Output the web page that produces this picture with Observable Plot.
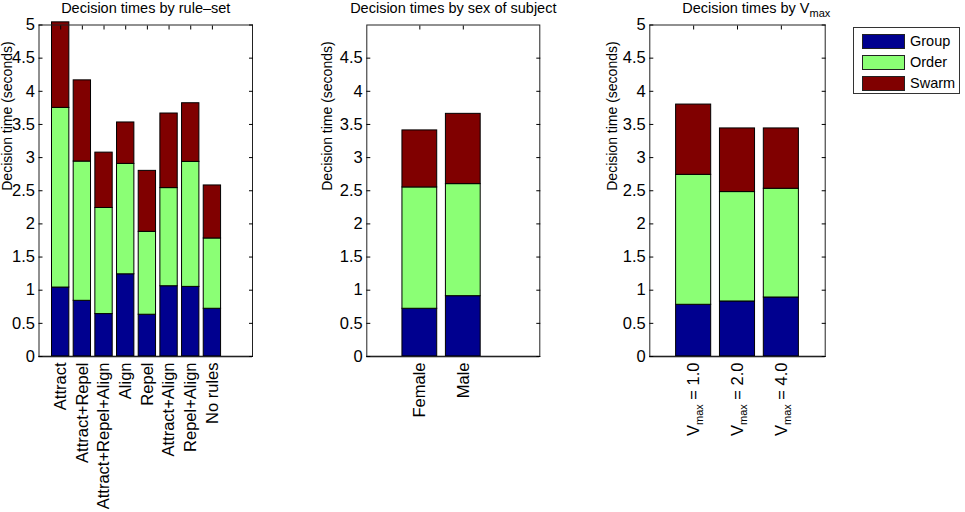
<!DOCTYPE html>
<html>
<head>
<meta charset="utf-8">
<script src="https://cdn.jsdelivr.net/npm/d3@7"></script>
<script src="https://cdn.jsdelivr.net/npm/@observablehq/plot@0.6"></script>
<style>
  body { margin: 0; background: white; font-family: "Liberation Sans", Arial, Helvetica, sans-serif; }
  #wrap { position: relative; width: 965px; height: 512px; overflow: hidden; }
  .panel { position: absolute; top: 0; }
  #legend { position: absolute; left: 853px; top: 27px; width: 107px; height: 67px; border: 1px solid #333; background: white; box-sizing: border-box; }
  .row { position: absolute; left: 8px; height: 16px; display: flex; align-items: center; }
  .sw { width: 43px; height: 15px; border: 1px solid #222; box-sizing: border-box; }
  .lab { margin-left: 5px; font-size: 14.5px; color: black; }
</style>
</head>
<body>
<div id="wrap"></div>
<script>
// ---- data ----
const seriesNames = ["Group", "Order", "Swarm"];
const seriesColors = ["#00008f", "#8bff75", "#800000"];

const ruleSets = ["Attract", "Attract+Repel", "Attract+Repel+Align", "Align", "Repel", "Attract+Align", "Repel+Align", "No rules"];
const ruleGroup = [1.04, 0.84, 0.64, 1.24, 0.63, 1.06, 1.05, 0.72];
const ruleOrder = [2.71, 2.10, 1.60, 1.665, 1.25, 1.48, 1.885, 1.06];
const ruleSwarm = [1.29, 1.225, 0.835, 0.625, 0.92, 1.125, 0.885, 0.80];

const sexes = ["Female", "Male"];
const sexGroup = [0.72, 0.91];
const sexOrder = [1.83, 1.69];
const sexSwarm = [0.86, 1.06];

const vmaxLabels = ["1.0", "2.0", "4.0"];
const vGroup = [0.78, 0.83, 0.89];
const vOrder = [1.96, 1.65, 1.64];
const vSwarm = [1.06, 0.96, 0.91];

const yTicksFull = [0, 0.5, 1, 1.5, 2, 2.5, 3, 3.5, 4, 4.5, 5];
const yTicksSex = [0, 0.5, 1, 1.5, 2, 2.5, 3, 3.5, 4, 4.5];

const FONT = '"Liberation Sans", Arial, Helvetica, sans-serif';

function buildRows(group, order, swarm) {
  const rows = [];
  group.forEach((g, k) => {
    const vals = [g, order[k], swarm[k]];
    let base = 0;
    vals.forEach((v, s) => {
      rows.push({i: k + 1, s: seriesNames[s], y1: base, y2: base + v});
      base += v;
    });
  });
  return rows;
}

function panel(cfg) {
  const rows = buildRows(cfg.group, cfg.order, cfg.swarm);
  const idx = cfg.cats.map((_, k) => k + 1);
  const chart = Plot.plot({
    width: cfg.width,
    height: 512,
    marginLeft: cfg.mLeft,
    marginRight: cfg.width - cfg.frameRight,
    marginTop: 24.5,
    marginBottom: 156,
    style: {fontFamily: FONT, color: "black", background: "transparent", overflow: "visible"},
    x: {domain: cfg.domain, label: null},
    y: {domain: [0, 5], label: null},
    color: {domain: seriesNames, range: seriesColors},
    marks: [
      Plot.rectY(rows, {x1: d => d.i - 0.4, x2: d => d.i + 0.4, y1: "y1", y2: "y2", fill: "s", stroke: "black", strokeWidth: 1}),
      Plot.ruleY([0], {stroke: "black", strokeWidth: 1.6}),
      Plot.frame({stroke: "#222", strokeWidth: 1}),
      Plot.axisY({ticks: cfg.yTicks, tickSize: 0, tickPadding: 4, fontSize: 16.5, tickFormat: d => String(d)}),
      Plot.axisY({ticks: cfg.yTicks, anchor: "left", tickSize: -4, tickFormat: () => ""}),
      Plot.axisY({ticks: cfg.yTicks, anchor: "right", tickSize: -4, tickFormat: () => ""}),
      Plot.axisX({ticks: idx, anchor: "top", tickSize: -4, tickFormat: () => ""}),
      Plot.axisX({ticks: idx, anchor: "bottom", tickSize: 0, tickPadding: 6, tickRotate: -90, fontSize: 16.5, tickFormat: i => cfg.tickText(i)}),
      Plot.text(["Decision time (seconds)"], {frameAnchor: "left", rotate: -90, dx: cfg.labelDx, fontSize: 14, fill: "black"}),
      Plot.text([cfg.title], {frameAnchor: cfg.titleAnchor, textAnchor: cfg.titleTextAnchor, lineAnchor: "bottom", dx: cfg.titleDx, dy: -12.5, fontSize: 14.5, fill: "black"})
    ]
  });
  const div = document.createElement("div");
  div.className = "panel";
  div.style.left = cfg.left + "px";
  div.appendChild(chart);
  document.getElementById("wrap").appendChild(div);
  return chart;
}

panel({
  cats: ruleSets, group: ruleGroup, order: ruleOrder, swarm: ruleSwarm,
  left: 0, width: 262, mLeft: 38.5, frameRight: 252, domain: [0, 9.85],
  yTicks: yTicksFull, labelDx: -31,
  title: "Decision times by rule\u2013set", titleAnchor: "top", titleTextAnchor: "middle", titleDx: 0,
  tickText: i => ruleSets[i - 1]
});

panel({
  cats: sexes, group: sexGroup, order: sexOrder, swarm: sexSwarm,
  left: 300, width: 250, mLeft: 66.3, frameRight: 239.3, domain: [-0.22, 3.76],
  yTicks: yTicksSex, labelDx: -38.8,
  title: "Decision times by sex of subject", titleAnchor: "top", titleTextAnchor: "middle", titleDx: 0,
  tickText: i => sexes[i - 1]
});

const p3 = panel({
  cats: vmaxLabels, group: vGroup, order: vOrder, swarm: vSwarm,
  left: 580, width: 255, mLeft: 69.3, frameRight: 244.7, domain: [0, 4],
  yTicks: yTicksFull, labelDx: -36.8,
  title: "Decision times by Vmax", titleAnchor: "top-left", titleTextAnchor: "start", titleDx: 32.4,
  tickText: i => "Vmax = " + vmaxLabels[i - 1]
});

// subscripts for V_max
d3.select(p3).selectAll("text").each(function () {
  const t = d3.select(this);
  const s = this.textContent;
  const m = s.match(/^(.*V)max(.*)$/);
  if (!m || this.querySelector("tspan")) return;
  t.text(null);
  t.append("tspan").text(m[1]);
  t.append("tspan").attr("dy", 4).attr("font-size", "11px").text("max");
  t.append("tspan").attr("dy", -4).text(m[2]);
});

// legend
const legend = document.createElement("div");
legend.id = "legend";
seriesNames.forEach((name, k) => {
  const row = document.createElement("div");
  row.className = "row";
  row.style.top = (5 + k * 21) + "px";
  const sw = document.createElement("div");
  sw.className = "sw";
  sw.style.background = seriesColors[k];
  const lab = document.createElement("span");
  lab.className = "lab";
  lab.textContent = name;
  row.appendChild(sw);
  row.appendChild(lab);
  legend.appendChild(row);
});
document.getElementById("wrap").appendChild(legend);
</script>
</body>
</html>
